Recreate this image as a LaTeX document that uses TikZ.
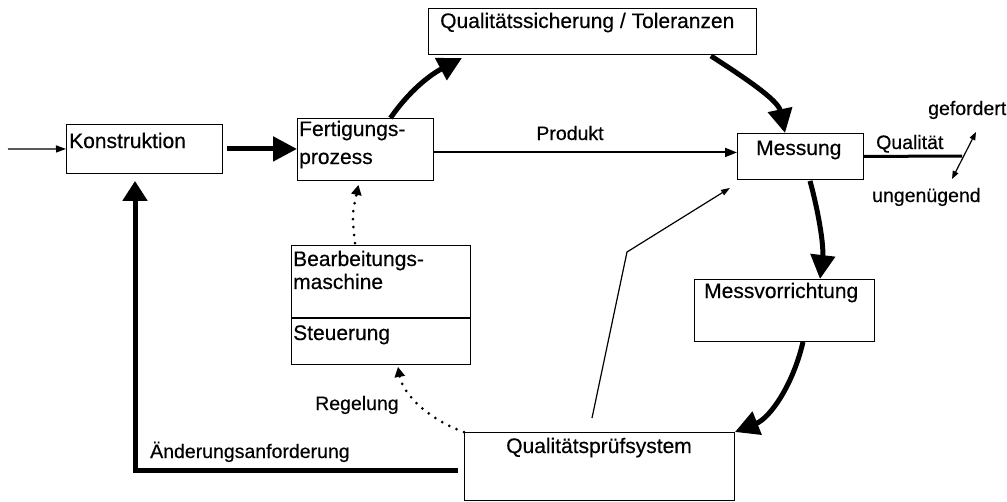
\documentclass[tikz,border=0pt]{standalone}
\usepackage{fontspec}
\setmainfont{Liberation Sans}
\newfontfamily\diagfont[FakeBold=0.4]{Liberation Sans}
\usetikzlibrary{arrows.meta,calc}
\begin{document}
\begin{tikzpicture}[x=1pt,y=-1pt,
  box/.style={draw, line width=0.9pt, inner sep=0pt, anchor=north west},
  boxtext/.style={font=\diagfont\fontsize{21}{25}\selectfont, inner sep=0pt, anchor=base west},
  lbl/.style={font=\diagfont\fontsize{19.5}{23}\selectfont, inner sep=0pt, anchor=base west},
  heavy/.style={line width=5pt, -{Triangle[length=24pt,width=24pt]}},
  thinarrow/.style={line width=1.3pt, -{Triangle[length=10pt,width=7pt]}},
  dotline/.style={line width=3pt, line cap=round, dash pattern=on 0pt off 8pt,
                  -{Triangle[length=10pt,width=10pt]}},
]
\useasboundingbox (0,0) rectangle (1007,501);

% boxes
\node[box, minimum width=156pt, minimum height=49pt]  (K)   at (66,124) {};
\node[box, minimum width=136pt, minimum height=62pt]  (F)   at (297,118) {};
\node[box, minimum width=328pt, minimum height=46pt]  (QS)  at (428,8) {};
\node[box, minimum width=126pt, minimum height=46pt]  (M)   at (737,133) {};
\node[box, minimum width=180pt, minimum height=62pt]  (MV)  at (694,279) {};
\node[box, minimum width=179pt, minimum height=119pt] (B)   at (291,245) {};
\node[box, minimum width=270pt, minimum height=68pt]  (QPS) at (464,432) {};
\draw[line width=1.4pt] ($(B.north west)+(0,73)$) coordinate (bd1) -- (bd1 -| B.east);

% box texts
\node[boxtext] (kt)  at (69,148)  {Konstruktion};
\node[boxtext] (ft1) at (299,136) {Fertigungs-};
\node[boxtext] (ft2) at (299,164) {prozess};
\node[boxtext] (qst) at (440,28)  {Qualitätssicherung / Toleranzen};
\node[boxtext] (mt)  at (756,155) {Messung};
\node[boxtext] (mvt) at (704,298) {Messvorrichtung};
\node[boxtext] (bt1) at (293,266) {Bearbeitungs-};
\node[boxtext] (bt2) at (293,289) {maschine};
\node[boxtext] (st)  at (293,340) {Steuerung};
\node[boxtext, anchor=base] (qpt) at (599,453) {Qualitätsprüfsystem};

% labels
\node[lbl, anchor=base] (lp) at (570,140) {Produkt};
\node[lbl] (lq)  at (876,149) {Qualität};
\node[lbl] (lg)  at (928,115) {gefordert};
\node[lbl] (lu)  at (872,202) {ungenügend};
\node[lbl] (lr)  at (315,410) {Regelung};
\node[lbl] (la)  at (150,458) {Änderungsanforderung};

% input and straight flow
\coordinate (in) at (8,149);
\draw[thinarrow] (in) -- (K.west);
\draw[heavy, shorten <=4pt] (K.east) -- (F.west |- K.east);
\coordinate (p0) at ($(F.east)+(0,3)$);
\draw[line width=2pt, -{Triangle[length=12pt,width=9pt]}] (p0) -- (p0 -| M.west);

% main quality loop
\draw[heavy] ($(F.north)+(25,0)$) .. controls (410,90) and (430,75) .. ($(QS.south west)+(34,3)$);
\draw[heavy] ($(QS.south east)+(-46,1)$) .. controls (745,78) and (778,100) .. ($(M.north west)+(48,0)$);
\draw[heavy] ($(M.south west)+(73,1)$) .. controls (818,210) and (824,245) .. ($(MV.north west)+(126,0)$);
\draw[heavy] ($(MV.south west)+(109,0)$) .. controls (793,385) and (770,418) .. (QPS.north east);

% quality decision
\coordinate (qend) at (962,156);
\draw[line width=3pt] (M.east) -- (qend);
\coordinate (gf) at (976,132);
\coordinate (ug) at (952,179);
\draw[line width=1.2pt, {Triangle[length=8pt,width=6pt]}-{Triangle[length=8pt,width=6pt]}] (ug) -- (gf);

% change request back to design
\coordinate (corner) at (135,470);
\draw[line width=5pt, -{Triangle[length=20pt,width=24pt]}, shorten <=6pt, shorten >=7pt]
  (QPS.west |- corner) -- (corner) -- (corner |- K.south);

% machine and control
\draw[dotline] ($(B.north west)+(64,-2)$) .. controls (352,215) .. ($(F.south)+(-7,4)$);
\draw[dotline] (QPS.north west) .. controls (430,420) and (403,395) .. ($(B.south west)+(107,2)$);

% feedback to measurement
\coordinate (bend) at (627,252);
\draw[line width=1.2pt, -{Triangle[length=9pt,width=6pt]}]
  ($(QPS.north west)+(128,-14)$) -- (bend) -- ($(M.south west)+(-7,8)$);
\end{tikzpicture}
\end{document}
